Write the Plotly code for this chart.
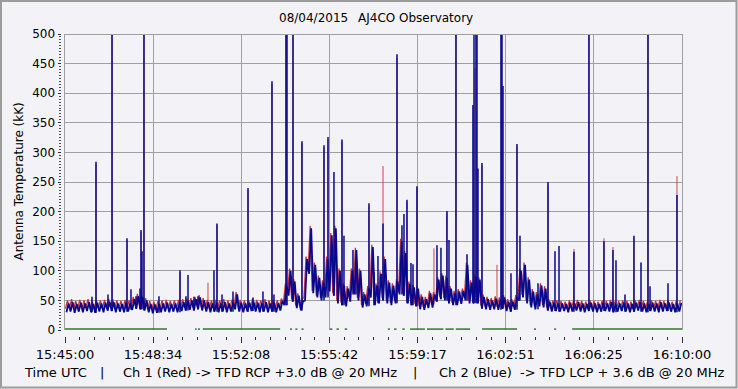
import plotly.graph_objects as go

W, H = 738, 389

# ---------------- data ----------------
# Time in seconds after 15:45:00, 10-second bins (150 bins = 25 min).
# Each bin: low / high edge of the noisy band (kK).
blue_lo = [30,31,29,31,30,32,30,29,31,30,
           33,32,30,31,30,31,34,36,35,33,
           30,28,29,30,31,30,31,30,32,33,
           34,33,35,33,31,30,31,30,31,30,
           31,35,31,30,31,32,31,30,31,30,
           31,30,33,42,58,48,37,33,50,95,
           62,55,50,55,65,58,45,42,40,48,
           60,50,38,40,55,42,45,50,45,42,
           45,60,58,45,42,40,35,34,37,38,
           48,52,50,45,42,42,44,50,45,45,
           45,36,35,34,35,34,36,32,31,34,
           50,55,45,38,35,40,38,33,31,32,
           31,32,30,31,33,31,30,32,31,30,
           31,32,31,30,31,32,31,30,31,33,
           31,30,32,31,30,31,32,31,30,31]
blue_hi = [45,47,44,46,45,47,44,46,45,46,
           48,47,45,44,46,45,52,57,56,50,
           44,43,44,45,46,44,45,46,47,49,
           50,52,55,50,47,45,46,45,47,45,
           46,60,46,45,46,48,46,45,47,45,
           46,45,49,75,100,82,58,48,120,172,
           110,88,80,120,160,172,100,75,70,100,
           135,100,60,70,140,75,95,120,80,75,
           82,150,130,78,72,70,56,52,62,60,
           85,92,88,70,62,65,66,110,80,90,
           85,56,52,50,53,51,55,48,48,55,
           100,110,85,65,60,75,70,48,46,45,
           45,44,46,45,47,45,44,46,45,44,
           46,45,47,44,45,46,45,44,46,47,
           45,44,46,45,47,45,46,44,45,46]
red_lo = [36,37,35,37,36,38,36,35,37,36,
          38,37,36,37,36,37,39,41,40,38,
          35,34,35,36,37,36,37,36,38,38,
          39,38,40,38,36,36,37,36,37,36,
          37,40,36,36,37,37,36,36,37,36,
          37,36,38,46,62,52,41,38,55,98,
          66,58,54,58,68,62,49,46,44,52,
          64,54,42,44,58,46,49,54,49,46,
          49,64,62,49,46,44,40,39,42,43,
          52,56,54,49,46,46,48,54,49,49,
          49,41,40,39,40,39,41,37,36,39,
          54,59,49,42,40,44,42,38,36,37,
          36,37,35,36,38,36,35,37,36,35,
          36,37,36,35,36,37,36,35,36,38,
          36,35,37,36,35,36,37,36,35,36]
red_hi = [50,52,49,51,50,52,49,51,50,51,
          53,52,50,49,51,50,56,61,60,54,
          49,48,49,50,51,49,50,51,52,53,
          54,56,59,54,51,50,51,50,52,50,
          51,64,51,50,51,53,51,50,52,50,
          51,50,53,79,104,86,62,52,124,176,
          114,92,84,124,164,176,104,79,74,104,
          139,104,64,74,144,79,99,124,84,79,
          86,154,134,82,76,74,60,56,66,64,
          89,96,92,74,66,69,70,114,84,94,
          89,60,56,54,57,55,59,52,52,59,
          104,114,89,69,64,79,74,52,50,50,
          49,48,50,49,51,49,48,50,49,48,
          50,49,51,48,49,50,49,48,50,51,
          49,48,50,49,51,49,50,48,49,50]

# Narrow interference spikes (time s, peak kK); values above 500 run off the chart
blue_spike_t = [65.6, 75.4, 104.5, 114.3, 150.7, 160.4, 172.6, 182.3, 184.8, 187.2,
                192.0, 228.5, 279.6, 294.0, 299.0, 313.6, 323.3, 362.2, 369.5, 381.7,
                408.4, 444.9, 457.0, 481.3, 503.2, 508.0, 537.3, 539.7, 554.3, 576.1,
                629.6, 639.4, 653.9, 673.4, 678.2, 700.1, 707.4, 739.0, 751.2, 760.9,
                773.1, 807.1, 819.2, 824.1, 831.4, 841.1, 846.0, 855.7, 904.3, 914.0,
                928.6, 933.5, 950.5, 977.3, 991.8, 994.3, 999.1, 1001.6, 1004.0, 1013.7,
                1059.9, 1062.4, 1064.8, 1084.2, 1098.8, 1106.1, 1149.9, 1174.2, 1191.2, 1201.0,
                1237.4, 1273.8, 1310.3, 1332.2, 1339.5, 1361.4, 1383.2, 1400.3, 1417.3, 1422.2,
                1466.0, 1487.8]
blue_spike_v = [56, 284, 60, 600, 155, 69, 57, 70, 169, 133,
                600, 57, 101, 57, 93, 56, 57, 101, 180, 60,
                65, 240, 55, 65, 420, 60, 600, 600, 600, 319,
                312, 326, 267, 322, 159, 135, 118, 214, 98, 125,
                180, 466, 177, 196, 220, 113, 111, 243, 143, 139,
                201, 152, 600, 128, 380, 600, 600, 600, 273, 282,
                600, 600, 412, 96, 314, 159, 79, 250, 133, 142,
                132, 600, 150, 135, 118, 60, 159, 114, 600, 74,
                79, 228]
red_spike_t = [75.4, 114.3, 150.7, 184.8, 192.0, 279.6, 347.6, 369.5, 444.9, 503.2,
               537.3, 554.3, 576.1, 629.6, 639.4, 673.4, 739.0, 773.1, 807.1, 831.4,
               855.7, 897.0, 928.6, 950.5, 996.7, 1013.7, 1050.2, 1061.0, 1098.8, 1174.2,
               1237.4, 1273.8, 1310.3, 1332.2, 1383.2, 1417.3, 1487.8]
red_spike_v = [280, 600, 152, 165, 600, 98, 80, 178, 236, 415,
               600, 600, 315, 308, 322, 318, 210, 277, 460, 216,
               240, 138, 198, 600, 442, 278, 110, 600, 310, 246,
               137, 600, 155, 140, 156, 600, 260]

# Third channel (green) near zero, present only in stretches
green_start = [0, 316, 323, 335, 547, 560, 575, 644, 660, 680, 785, 800, 820,
               839, 880, 925, 950, 1014, 1140, 1189, 1233]
green_end = [248, 320, 328, 523, 552, 565, 580, 650, 666, 686, 790, 806, 826,
             875, 920, 945, 985, 1099, 1145, 1194, 1500]
green_level = [1.5] * len(green_start)

tick_labels = ["15:45:00", "15:48:34", "15:52:08", "15:55:42",
               "15:59:17", "16:02:51", "16:06:25", "16:10:00"]
y_ticks = [0, 50, 100, 150, 200, 250, 300, 350, 400, 450, 500]

# ---------------- build traces ----------------
def secs(lbl):
    h, m, s = (int(v) for v in lbl.split(":"))
    return (h * 3600 + m * 60 + s) - (15 * 3600 + 45 * 60)

tick_vals = [secs(l) for l in tick_labels]
T_END = tick_vals[-1]

def band(lo, hi, off):
    xs, ys = [], []
    for i, (a, b) in enumerate(zip(lo, hi)):
        xs += [10 * i + off, 10 * i + off + 5]
        ys += [a, b]
    return xs, ys

def spikes(ts, vs, lo):
    xs, ys = [], []
    for t, v in zip(ts, vs):
        b = lo[min(int(t // 10), len(lo) - 1)]
        xs += [t, t, None]
        ys += [b, v, None]
    return xs, ys

BLUE = "#08088e"
RED = "#c8323c"
GREEN = "#357530"
GRID = "#a0a0a0"
BG = "#f3f3f7"
FONT = "DejaVu Sans"

fig = go.Figure()
rx, ry = band(red_lo, red_hi, 1.0)
fig.add_trace(go.Scatter(x=rx, y=ry, mode="lines", line=dict(color=RED, width=1.3), hoverinfo="skip"))
sx, sy = spikes(red_spike_t, red_spike_v, red_lo)
fig.add_trace(go.Scatter(x=sx, y=sy, mode="lines", line=dict(color=RED, width=0.9), hoverinfo="skip"))
bx, by = band(blue_lo, blue_hi, 3.5)
fig.add_trace(go.Scatter(x=bx, y=by, mode="lines", line=dict(color=BLUE, width=1.8), hoverinfo="skip"))
sx, sy = spikes(blue_spike_t, blue_spike_v, blue_lo)
fig.add_trace(go.Scatter(x=sx, y=sy, mode="lines", line=dict(color=BLUE, width=1.5), hoverinfo="skip"))
gx, gy = [], []
for s, e, g in zip(green_start, green_end, green_level):
    gx += [s, e, None]
    gy += [g, g, None]
fig.add_trace(go.Scatter(x=gx, y=gy, mode="lines", line=dict(color=GREEN, width=1.5), hoverinfo="skip"))
# dummy trace to host the free tick axes
fig.add_trace(go.Scatter(x=[None], y=[None], xaxis="x2", yaxis="y2", hoverinfo="skip"))

x0p, x1p = 65 / W, 682 / W
y0p, y1p = (H - 330) / H, (H - 34) / H

fig.update_layout(
    template="none",
    width=W, height=H,
    autosize=False,
    margin=dict(l=0, r=0, t=0, b=0, pad=0, autoexpand=False),
    paper_bgcolor=BG, plot_bgcolor=BG,
    showlegend=False,
    font=dict(family=FONT, color="#000000", size=12),
    xaxis=dict(domain=[x0p, x1p], range=[0, T_END], tickvals=tick_vals,
               showticklabels=False, ticks="", showgrid=True, gridcolor=GRID,
               gridwidth=1, zeroline=False, showline=False, fixedrange=True,
               automargin=False),
    yaxis=dict(domain=[y0p, y1p], range=[0, 500], tickvals=y_ticks[1:],
               showticklabels=False, ticks="", showgrid=True, gridcolor=GRID,
               gridwidth=1, zeroline=False, showline=True, mirror=True,
               linecolor=GRID, linewidth=1, fixedrange=True, automargin=False),
    xaxis2=dict(domain=[x0p, x1p], range=[0, T_END], overlaying="x", anchor="free",
                position=(H - 336) / H, side="bottom", automargin=False,
                tickmode="array", tickvals=tick_vals, ticktext=tick_labels,
                ticks="outside", ticklen=6, tickwidth=1, tickcolor="#303030",
                tickfont=dict(family=FONT, size=13, color="#000000"),
                minor=dict(tickmode="linear", tick0=0, dtick=T_END / 42,
                           ticks="outside", ticklen=3, tickwidth=1, tickcolor="#303030",
                           showgrid=False),
                showgrid=False, zeroline=False, showline=False, fixedrange=True),
    yaxis2=dict(domain=[y0p, y1p], range=[0, 500], overlaying="y", anchor="free",
                position=60.5 / W, side="left", automargin=False,
                tickmode="array", tickvals=y_ticks, ticktext=[str(v) for v in y_ticks],
                ticks="outside", ticklen=3, tickwidth=1, tickcolor="#303030",
                tickfont=dict(family=FONT, size=12, color="#000000"),
                minor=dict(tickmode="linear", tick0=0, dtick=5, ticks="outside",
                           ticklen=2, tickwidth=1, tickcolor="#505050", showgrid=False),
                showgrid=False, zeroline=False, showline=False, fixedrange=True),
)

def ann(text, px, py, xanchor="left", size=13, angle=0):
    fig.add_annotation(text=text, x=px / W, y=1 - py / H, xref="paper", yref="paper",
                       xanchor=xanchor, yanchor="middle", showarrow=False, textangle=angle,
                       font=dict(family=FONT, size=size, color="#000000"))

ann("08/04/2015", 277, 18, size=12)
ann("AJ4CO Observatory", 356, 18, size=12)
ann("Antenna Temperature (kK)", 18.5, 182, xanchor="center", size=12, angle=-90)
ann("Time UTC", 22, 372)
ann("|", 101.5, 372, xanchor="center")
ann("Ch 1 (Red) -> TFD RCP +3.0 dB @ 20 MHz", 120.5, 372)
ann("|", 415, 372, xanchor="center")
ann("Ch 2 (Blue)\u00a0\u00a0-> TFD LCP + 3.6 dB @ 20 MHz", 436.5, 372)

# top frame line of the plot area and outer window border
fig.add_shape(type="line", xref="paper", yref="paper", x0=x0p, x1=x1p,
              y0=1 - 34.5 / H, y1=1 - 34.5 / H, line=dict(color=GRID, width=1))
fig.add_shape(type="rect", xref="paper", yref="paper", x0=1 / W, x1=1 - 1.5 / W,
              y0=1.5 / H, y1=1 - 1 / H, line=dict(color="#9c9c9c", width=2))

fig.write_html("out.html", config={"responsive": False, "displayModeBar": False},
               post_script="document.body.style.margin='0px';document.body.style.overflow='hidden';")
